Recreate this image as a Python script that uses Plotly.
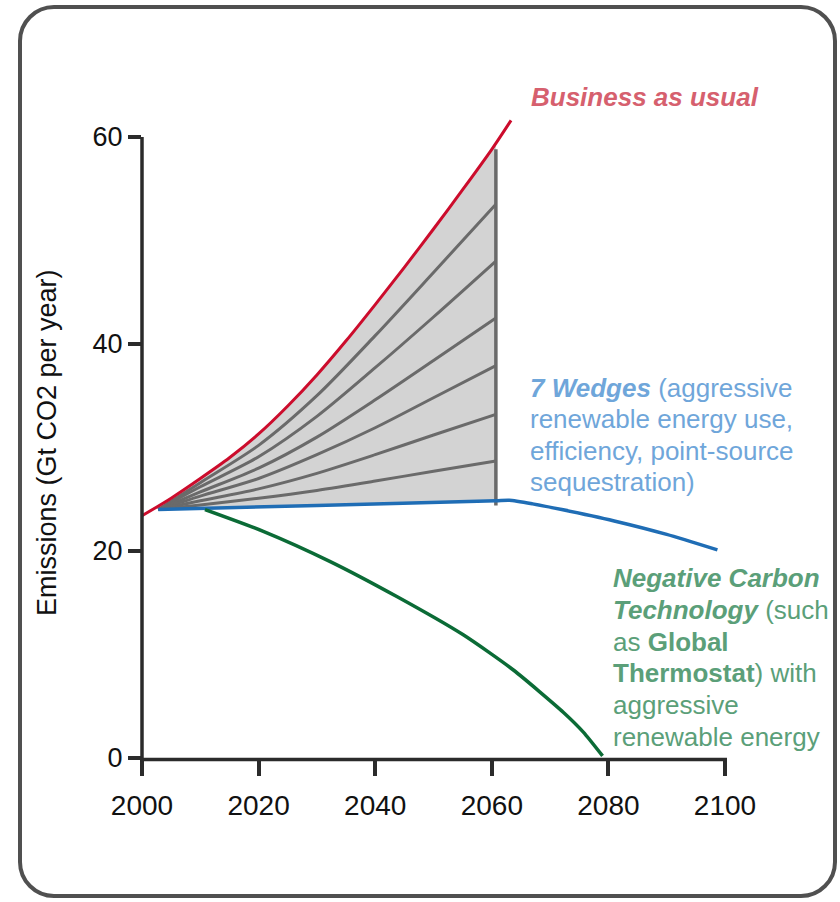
import plotly.graph_objects as go

# ---------------- data ----------------
bau_years = [2000, 2005, 2010, 2015, 2020, 2025, 2030, 2035, 2040, 2045, 2050, 2055, 2060, 2063.3]
bau_values = [23.4, 25.1, 27.0, 29.0, 31.3, 34.0, 37.0, 40.3, 43.8, 47.4, 51.1, 54.9, 58.8, 61.6]

# upper edge of the grey wedge area (follows BAU between the fan origin and the vertical bar)
wedge_top_years = [2002.8, 2005, 2010, 2015, 2020, 2025, 2030, 2035, 2040, 2045, 2050, 2055, 2060, 2060.7]
wedge_top_values = [24.0, 25.1, 27.0, 29.0, 31.3, 34.0, 37.0, 40.3, 43.8, 47.4, 51.1, 54.9, 58.8, 59.3]

# the six grey wedge dividers
wedge_years = [2002.8, 2010, 2020, 2030, 2040, 2050, 2060.7]
wedge_1 = [24.0, 26.6, 30.2, 35.0, 40.8, 46.9, 53.5]
wedge_2 = [24.0, 26.2, 29.1, 33.0, 37.7, 42.6, 48.0]
wedge_3 = [24.0, 25.7, 28.0, 31.0, 34.6, 38.4, 42.5]
wedge_4 = [24.0, 25.3, 27.0, 29.3, 31.9, 34.8, 37.9]
wedge_5 = [24.0, 24.85, 26.0, 27.5, 29.3, 31.2, 33.2]
wedge_6 = [24.0, 24.45, 25.1, 25.85, 26.75, 27.7, 28.7]
wedge_lines = [wedge_1, wedge_2, wedge_3, wedge_4, wedge_5, wedge_6]

# vertical bar closing the wedges
bar_year = [2060.7, 2060.7]
bar_values = [24.4, 58.8]

# 7 wedges scenario (blue)
blue_years = [2002.8, 2030, 2060.7, 2063, 2067, 2072, 2081, 2090, 2098.7]
blue_values = [24.0, 24.4, 24.85, 24.9, 24.55, 24.0, 22.9, 21.6, 20.1]

# negative carbon technology scenario (green)
green_years = [2010.8, 2020.8, 2032.2, 2043.7, 2055.1, 2063.7, 2072.3, 2075.7, 2079.0]
green_values = [24.0, 21.9, 19.0, 15.6, 11.9, 8.5, 4.4, 2.5, 0.2]

x_ticks = [2000, 2020, 2040, 2060, 2080, 2100]
y_ticks = [0, 20, 40, 60]

# ---------------- layout geometry ----------------
W, H = 840, 902
L, R, T, B = 142, 115, 111, 144
FONT = "Liberation Sans, Arial, sans-serif"
Y_MAX = 62.5
AXIS_COLOR = "#2b2b2b"


def pxx(px):
    return (px - L) / (W - L - R)


def pxy(py):
    return (H - B - py) / (H - T - B)


fig = go.Figure()

# grey wedge area: blue segment as base, wedge top filled down to it
fig.add_trace(go.Scatter(x=[blue_years[0], blue_years[2]], y=[blue_values[0], blue_values[2]],
                         mode="lines", line=dict(width=0, color="rgba(0,0,0,0)"),
                         hoverinfo="skip", showlegend=False))
fig.add_trace(go.Scatter(x=wedge_top_years, y=wedge_top_values, mode="lines",
                         line=dict(width=0, color="rgba(0,0,0,0)"),
                         fill="tonexty", fillcolor="#d3d3d3",
                         hoverinfo="skip", showlegend=False))

for wl in wedge_lines:
    fig.add_trace(go.Scatter(x=wedge_years, y=wl, mode="lines",
                             line=dict(color="#6a6a6a", width=3, shape="spline", smoothing=0.8),
                             hoverinfo="skip", showlegend=False))

fig.add_trace(go.Scatter(x=bar_year, y=bar_values, mode="lines",
                         line=dict(color="#6a6a6a", width=3.5),
                         hoverinfo="skip", showlegend=False))

fig.add_trace(go.Scatter(x=blue_years, y=blue_values, mode="lines",
                         line=dict(color="#1f6db5", width=3.5, shape="spline", smoothing=0.6),
                         showlegend=False))
fig.add_trace(go.Scatter(x=green_years, y=green_values, mode="lines",
                         line=dict(color="#0b6b36", width=3.5, shape="spline", smoothing=0.6),
                         showlegend=False))
fig.add_trace(go.Scatter(x=bau_years, y=bau_values, mode="lines",
                         line=dict(color="#cc0c2c", width=3, shape="spline", smoothing=0.8),
                         showlegend=False))

# ---------------- shapes ----------------
shapes = []
# y axis line (ends at the 60 tick), x axis line (paper refs so they are not clipped)
shapes.append(dict(type="line", xref="paper", yref="paper", x0=pxx(142), x1=pxx(142),
                   y0=pxy(762), y1=y_ticks[-1] / Y_MAX,
                   line=dict(color=AXIS_COLOR, width=3.5), layer="above"))
shapes.append(dict(type="line", xref="paper", yref="paper", x0=pxx(140.3), x1=pxx(727),
                   y0=pxy(759.5), y1=pxy(759.5),
                   line=dict(color=AXIS_COLOR, width=3.5), layer="above"))

# rounded frame
x0, x1, y0, y1, r = 20, 835, 7, 896, 34
k = 0.552 * r
pts = [
    ("M", [(x0 + r, y0)]),
    ("L", [(x1 - r, y0)]),
    ("C", [(x1 - r + k, y0), (x1, y0 + r - k), (x1, y0 + r)]),
    ("L", [(x1, y1 - r)]),
    ("C", [(x1, y1 - r + k), (x1 - r + k, y1), (x1 - r, y1)]),
    ("L", [(x0 + r, y1)]),
    ("C", [(x0 + r - k, y1), (x0, y1 - r + k), (x0, y1 - r)]),
    ("L", [(x0, y0 + r)]),
    ("C", [(x0, y0 + r - k), (x0 + r - k, y0), (x0 + r, y0)]),
]
path = ""
for cmd, plist in pts:
    path += cmd + " " + " ".join(f"{pxx(px):.5f},{pxy(py):.5f}" for px, py in plist) + " "
path += "Z"
shapes.append(dict(type="path", xref="paper", yref="paper", path=path,
                   line=dict(color="#505050", width=4)))

# ---------------- annotations ----------------
ann = []


def add_text(text, px, py, color, size=26, xanchor="left", angle=0):
    ann.append(dict(text=text, x=pxx(px), y=pxy(py), xref="paper", yref="paper",
                    xanchor=xanchor, yanchor="middle", showarrow=False, textangle=angle,
                    font=dict(family=FONT, size=size, color=color)))


red_txt = "#d6606e"
blue_txt = "#6fa6da"
green_txt = "#5b9f79"

add_text("<b><i>Business as usual</i></b>", 529, 97, red_txt)

wedge_text = ["<b><i>7 Wedges</i></b> (aggressive", "renewable energy use,",
              "efficiency, point-source", "sequestration)"]
for i, t in enumerate(wedge_text):
    add_text(t, 528, 388 + i * 31.3, blue_txt)

green_text = ["<b><i>Negative Carbon</i></b>", "<b><i>Technology</i></b> (such",
              "as <b>Global</b>", "<b>Thermostat</b>) with", "aggressive", "renewable energy"]
for i, t in enumerate(green_text):
    add_text(t, 611, 578 + i * 31.8, green_txt)

add_text("Emissions (Gt CO2 per year)", 47, 443, "#111111", size=27, xanchor="center", angle=-90)

fig.update_layout(
    width=W, height=H,
    margin=dict(l=L, r=R, t=T, b=B, pad=0),
    paper_bgcolor="white", plot_bgcolor="white",
    shapes=shapes, annotations=ann,
    xaxis=dict(range=[2000, 2100], tickvals=x_ticks, ticktext=[str(v) for v in x_ticks],
               showgrid=False, zeroline=False, showline=False,
               ticks="outside", ticklen=17, tickwidth=3.5, tickcolor=AXIS_COLOR,
               ticklabelstandoff=5,
               tickfont=dict(family=FONT, size=28, color="#111111")),
    yaxis=dict(range=[0, Y_MAX], tickvals=y_ticks, ticktext=[str(v) for v in y_ticks],
               showgrid=False, zeroline=False, showline=False,
               ticks="outside", ticklen=13, tickwidth=3.5, tickcolor=AXIS_COLOR,
               tickfont=dict(family=FONT, size=27, color="#111111")),
    showlegend=False,
)

fig.write_html("out.html", config={"displayModeBar": False},
               post_script="document.body.style.margin='0';document.body.style.overflow='hidden';")
